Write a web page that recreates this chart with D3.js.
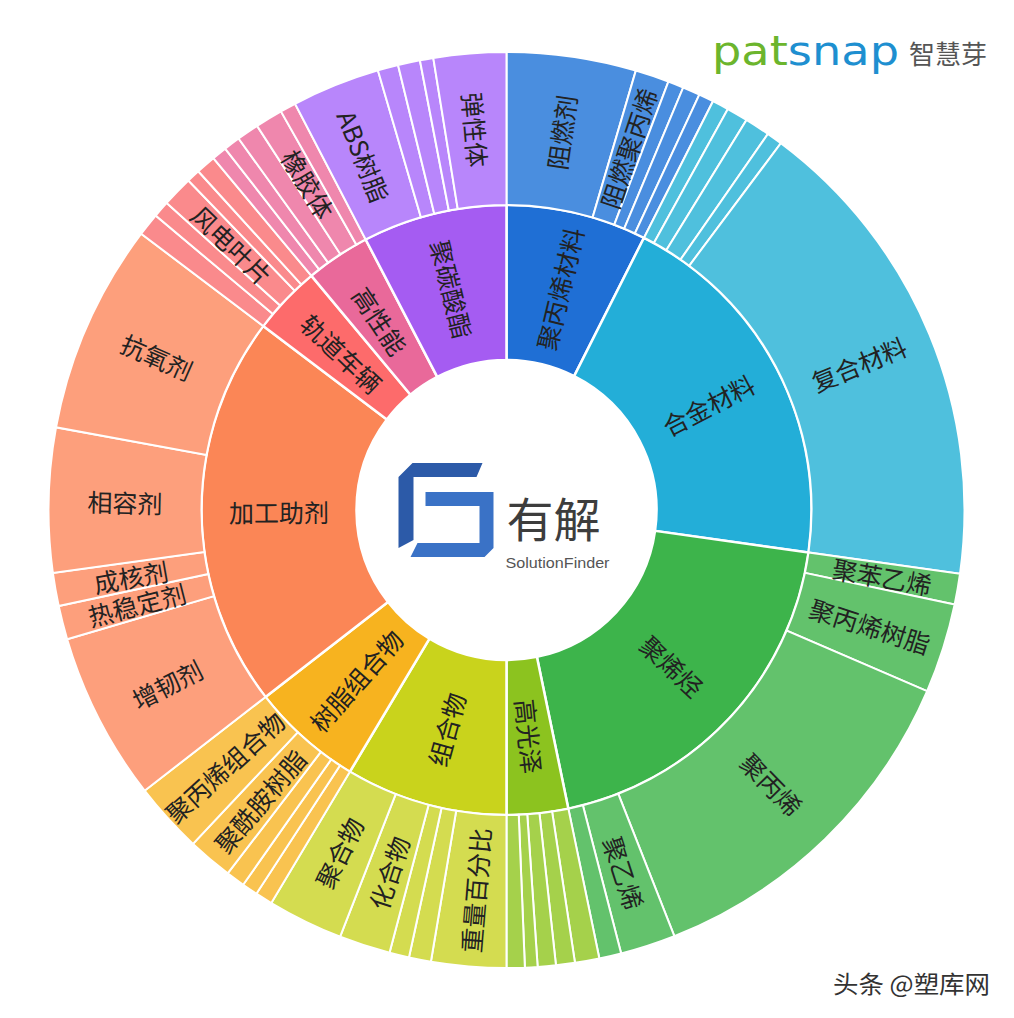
<!DOCTYPE html>
<html>
<head>
<meta charset="utf-8">
<script src="https://cdn.jsdelivr.net/npm/d3@7"></script>
<style>
   html, body { margin: 0; padding: 0; background: #ffffff; }
   svg { display: block; }
</style>
</head>
<body>
<div id="viz"></div>
<script>
// ========================================
// Data (slice sizes, in degrees of the circle)
// ========================================

var groups = ["聚丙烯材料", "合金材料", "聚烯烃", "高光泽", "组合物",
              "树脂组合物", "加工助剂", "轨道车辆", "高性能", "聚碳酸酯"];

var leaf_names = [
   ["阻燃剂", "阻燃聚丙烯", "", "", ""],
   ["", "", "", "", "复合材料"],
   ["聚苯乙烯", "聚丙烯树脂", "聚丙烯", "聚乙烯", ""],
   ["", "", "", "", ""],
   ["重量百分比", "", "", "化合物", "聚合物"],
   ["", "", "", "聚酰胺树脂", "聚丙烯组合物"],
   ["增韧剂", "热稳定剂", "成核剂", "相容剂", "抗氧剂"],
   ["", "", "风电叶片", "", ""],
   ["", "", "", "橡胶体", ""],
   ["ABS树脂", "", "", "", "弹性体"]
];

var leaf_values = [
   [16.4, 4.3, 2.0, 2.2, 1.9],
   [2.1, 2.7, 3.2, 2.0, 61.2],
   [3.9, 11.4, 45.2, 7.0, 2.8],
   [3.1, 2.4, 2.3, 1.6, 2.3],
   [9.5, 2.8, 2.5, 6.5, 9.6],
   [2.2, 2.0, 2.4, 5.7, 9.0],
   [21.4, 4.3, 4.2, 18.3, 26.7],
   [2.9, 2.1, 3.9, 1.7, 2.5],
   [1.9, 2.1, 2.8, 3.5, 2.0],
   [11.2, 2.6, 2.8, 1.7, 9.2]
];

// ========================================
// Styles
// ========================================

var group_colors = ["#1f6fd5", "#23aed8", "#3db44b", "#8cc31f", "#c9d31c",
                    "#f7b31f", "#fb8656", "#fd6b6b", "#e9699a", "#a55cf2"];
var leaf_colors  = ["#4a8edf", "#4fc0dd", "#63c26c", "#a5d14b", "#d4dc50",
                    "#f9c350", "#fd9f7c", "#fa8a8c", "#ef87ad", "#b886fb"];

var width = 1014,
    height = 1018,
    cx = 506.5,
    cy = 510;

var ring = d3.scaleLinear().domain([1, 2, 3]).range([150, 305, 458]);

var svg = d3.select("#viz")
   .append("svg")
   .attr("width", width)
   .attr("height", height)
   .style("background-color", "#ffffff");

var chart = svg.append("g")
   .attr("transform", `translate(${cx}, ${cy})`);

// ========================================
// Hierarchy + partition
// ========================================

var root = d3.hierarchy({
   name: "root",
   children: groups.map((g, i) => ({
      name: g,
      idx: i,
      children: leaf_names[i].map((n, j) => ({ name: n, idx: i, value: leaf_values[i][j] }))
   }))
}).sum(d => d.value || 0);

d3.partition().size([2 * Math.PI, 3])(root);

var arc = d3.arc()
   .startAngle(d => d.x0)
   .endAngle(d => d.x1)
   .innerRadius(d => ring(d.y0))
   .outerRadius(d => ring(d.y1));

var slices = root.descendants().filter(d => d.depth > 0);

chart.selectAll(".slice")
   .data(slices)
   .enter()
   .append("path")
   .attr("class", "slice")
   .attr("d", arc)
   .style("fill", d => d.depth === 1 ? group_colors[d.data.idx] : leaf_colors[d.data.idx])
   .style("stroke", "#ffffff")
   .style("stroke-width", d => d.depth === 1 ? 2.5 : 2);

// radial labels, flipped on the left half so they never read upside down
function label_transform(d) {
   var a = (d.x0 + d.x1) / 2,
       r = (ring(d.y0) + ring(d.y1)) / 2,
       deg = a * 180 / Math.PI,
       rot = deg < 180 ? deg - 90 : deg - 270;
   return `translate(${r * Math.sin(a)}, ${-r * Math.cos(a)})rotate(${rot})`;
}

chart.selectAll(".label")
   .data(slices.filter(d => d.data.name))
   .enter()
   .append("text")
   .attr("class", "label")
   .attr("transform", label_transform)
   .attr("text-anchor", "middle")
   .attr("dominant-baseline", "central")
   .style("font-family", "'Noto Sans CJK SC', 'Noto Sans', sans-serif")
   .style("font-size", "25px")
   .style("fill", "#222")
   .text(d => d.data.name);

// ========================================
// Centre logo
// ========================================

var logo = chart.append("g").attr("transform", "translate(-108, -47)");

logo.append("polygon")
   .attr("points", "0,14 14,0 84,0 78,14 15,14 15,77 0,85")
   .style("fill", "#2c5aa8");
logo.append("polygon")
   .attr("points", "27,29 95,29 95,85 86,94 12,94 19,80 81,80 81,43 27,43")
   .style("fill", "#3a72c6");

logo.append("text")
   .attr("x", 0).attr("y", 0)
   .attr("transform", "translate(108, 74)")
   .style("font-family", "'Noto Sans CJK SC', sans-serif")
   .style("font-size", "47px")
   .style("fill", "#3d3d3d")
   .text("有解");

logo.append("text")
   .attr("x", 107).attr("y", 105)
   .attr("textLength", 104)
   .attr("lengthAdjust", "spacingAndGlyphs")
   .style("font-family", "'Liberation Sans', sans-serif")
   .style("font-size", "14px")
   .style("fill", "#555")
   .text("SolutionFinder");

// ========================================
// Brand marks
// ========================================

var brand = svg.append("text")
   .attr("x", 712).attr("y", 65)
   .attr("textLength", 187)
   .attr("lengthAdjust", "spacingAndGlyphs")
   .style("font-family", "'DejaVu Sans', sans-serif")
   .style("font-size", "40px");
brand.append("tspan").style("fill", "#6cb52d").text("pat");
brand.append("tspan").style("fill", "#1e8fd0").text("snap");

svg.append("text")
   .attr("x", 909).attr("y", 64)
   .style("font-family", "'Noto Sans CJK SC', sans-serif")
   .style("font-size", "26px")
   .style("fill", "#555")
   .text("智慧芽");

svg.append("text")
   .attr("x", 833).attr("y", 993)
   .attr("textLength", 157)
   .attr("lengthAdjust", "spacingAndGlyphs")
   .style("font-family", "'Noto Sans CJK SC', sans-serif")
   .style("font-size", "24px")
   .style("fill", "#333")
   .text("头条 @塑库网");
</script>
</body>
</html>
